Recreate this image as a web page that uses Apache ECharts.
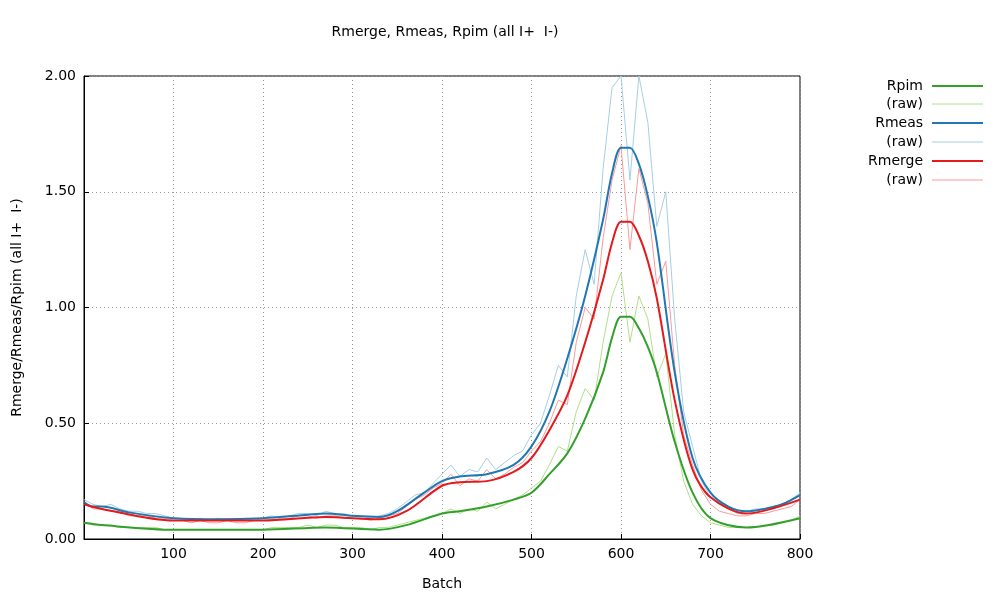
<!DOCTYPE html><html><head><meta charset="utf-8"><script src="https://cdn.jsdelivr.net/npm/echarts@6/dist/echarts.min.js"></script></head><body style="margin:0"><div id="c" style="width:1000px;height:600px"></div><script>
const rawX=[];for(let i=0;i<=800;i+=10)rawX.push(i);
const rmeasRaw=[.17,.15,.14,.15,.13,.12,.12,.11,.11,.10,.09,.09,.08,.09,.08,.09,.08,.08,.09,.08,.09,.10,.09,.10,.11,.11,.10,.12,.11,.11,.10,.10,.09,.10,.11,.13,.16,.19,.20,.24,.28,.32,.27,.30,.29,.35,.30,.33,.36,.38,.45,.50,.62,.75,.70,1.05,1.25,1.10,1.60,1.95,2.0,1.55,2.0,1.80,1.35,1.50,0.95,0.55,0.40,0.25,.18,.15,.13,.11,.12,.13,.13,.14,.15,.17,.20];
const rmergeRaw=[.16,.13,.13,.12,.12,.10,.10,.10,.09,.09,.08,.08,.07,.08,.07,.07,.08,.07,.07,.08,.08,.08,.09,.09,.10,.10,.09,.10,.10,.09,.09,.09,.08,.09,.10,.11,.14,.17,.19,.22,.24,.28,.23,.26,.25,.30,.26,.28,.31,.33,.38,.42,.50,.60,.58,.85,1.00,.95,1.30,1.55,1.70,1.25,1.60,1.45,1.10,1.20,.75,.45,.32,.21,.15,.12,.11,.10,.10,.11,.11,.12,.13,.14,.17];
const rpimRaw=[.07,.06,.06,.06,.05,.05,.05,.05,.05,.04,.04,.04,.04,.04,.04,.04,.04,.04,.04,.04,.04,.05,.05,.05,.05,.06,.05,.06,.06,.05,.05,.05,.04,.05,.05,.06,.07,.08,.09,.10,.11,.13,.11,.13,.12,.16,.13,.15,.17,.19,.22,.25,.32,.40,.38,.55,.65,.60,.85,1.05,1.15,.85,1.05,.95,.70,.80,.45,.25,.15,.10,.07,.06,.05,.05,.05,.05,.06,.06,.07,.08,.10];
const rmeas=[[0,.16],[10,.14],[20,.14],[50,.115],[100,.09],[150,.085],[200,.09],[250,.105],[270,.11],[300,.10],[330,.095],[350,.12],[380,.2],[400,.25],[420,.27],[450,.28],[480,.32],[500,.4],[520,.55],[540,.78],[560,1.05],[580,1.38],[590,1.58],[600,1.69],[610,1.69],[620,1.62],[630,1.48],[640,1.28],[660,.72],[680,.35],[700,.2],[720,.14],[740,.12],[760,.13],[780,.15],[800,.19]];
const rmerge=[[0,.15],[20,.13],[100,.08],[200,.08],[270,.095],[330,.085],[360,.12],[400,.23],[420,.245],[450,.25],[480,.29],[500,.35],[520,.47],[540,.62],[560,.85],[580,1.12],[590,1.28],[600,1.37],[610,1.37],[620,1.31],[630,1.2],[640,1.04],[660,.6],[680,.3],[700,.18],[740,.11],[800,.17]];
const rpim=[[0,.07],[20,.06],[100,.04],[200,.04],[270,.05],[330,.04],[360,.06],[400,.11],[420,.12],[450,.14],[480,.17],[500,.2],[520,.28],[540,.37],[560,.52],[580,.72],[590,.87],[600,.96],[610,.96],[620,.91],[630,.83],[640,.72],[660,.42],[680,.2],[700,.09],[740,.05],[800,.09]];
const C={pim:'#33a02c',pimR:'#b2df8a',meas:'#1f78b4',measR:'#a6cee3',merge:'#e31a1c',mergeR:'#fb9a99'};
const z=a=>rawX.map((x,i)=>[x,a[i]]);
function raw(d,c){return {type:'line',data:z(d),symbol:'none',lineStyle:{color:c,width:1},silent:true,clip:true};}
function sm(d,c){return {type:'line',data:d,smooth:0.3,symbol:'none',lineStyle:{color:c,width:2},silent:true,clip:true};}
const legItems=[['Rpim',C.pim,2,86],['(raw)',C.pimR,1,104],['Rmeas',C.meas,2,123],['(raw)',C.measR,1,142],['Rmerge',C.merge,2,161],['(raw)',C.mergeR,1,180]];
const g=[];legItems.forEach(([t,c,w,y])=>{g.push({type:'text',right:77,top:y-7,style:{text:t,font:'14px "DejaVu Sans"',fill:'#000',textAlign:'right'}});g.push({type:'line',shape:{x1:932,y1:y,x2:983,y2:y},style:{stroke:c,lineWidth:w}});});
const tx={fontFamily:'DejaVu Sans',fontSize:14,color:'#000'};
echarts.init(document.getElementById('c')).setOption({animation:false,
title:{text:'Rmerge, Rmeas, Rpim (all I+  I-)',left:440,top:20,textAlign:'center',textStyle:{fontFamily:'DejaVu Sans',fontSize:14,fontWeight:'normal',color:'#000'}},
grid:{left:84,right:200,top:76,bottom:61,show:true,borderColor:'#000',borderWidth:1},
xAxis:{type:'value',min:0,max:800,interval:100,name:'Batch',nameLocation:'middle',nameGap:38,nameTextStyle:tx,axisLabel:{...tx,formatter:v=>v===0?'':v},axisLine:{lineStyle:{color:'#000'}},axisTick:{inside:true,lineStyle:{color:'#000'}},splitLine:{lineStyle:{color:'#999',type:[1,3]}}},
yAxis:{type:'value',min:0,max:2,interval:0.5,name:'Rmerge/Rmeas/Rpim (all I+  I-)',nameLocation:'middle',nameGap:60,nameTextStyle:tx,axisLabel:{...tx,formatter:v=>v.toFixed(2)},axisLine:{show:true,lineStyle:{color:'#000'}},axisTick:{inside:true,lineStyle:{color:'#000'}},splitLine:{lineStyle:{color:'#999',type:[1,3]}}},
graphic:g,
series:[raw(rpimRaw,C.pimR),raw(rmeasRaw,C.measR),raw(rmergeRaw,C.mergeR),sm(rpim,C.pim),sm(rmeas,C.meas),sm(rmerge,C.merge)]});
</script></body></html>
